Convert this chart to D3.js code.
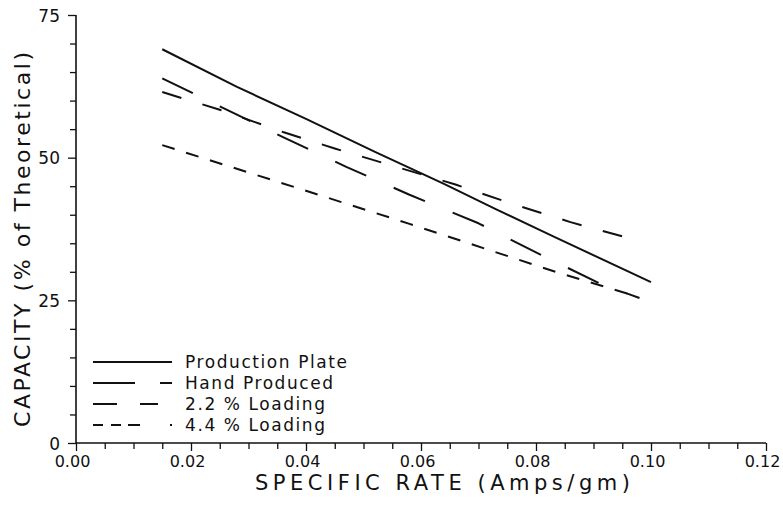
<!DOCTYPE html>
<html>
<head>
<meta charset="utf-8">
<script src="https://cdn.jsdelivr.net/npm/d3@7"></script>
<style>
  html, body { margin: 0; padding: 0; background: #fff; }
  svg { display: block; }
  text { font-family: "DejaVu Sans", "Liberation Sans", sans-serif; fill: #111; }
</style>
</head>
<body>
<svg id="chart" width="783" height="505"></svg>
<script>
// Capacity vs. specific discharge rate for four plate types
const seriesNames = ["Production Plate", "Hand Produced", "2.2 % Loading", "4.4 % Loading"];

const productionRate = [0.015, 0.028, 0.040, 0.052, 0.064, 0.073, 0.083, 0.100];
const productionCap  = [69.0, 62.4, 56.8, 51.0, 45.4, 41.0, 36.2, 28.2];

const handRate = [0.015, 0.025, 0.036, 0.045, 0.066, 0.075, 0.086, 0.098];
const handCap  = [61.5, 58.4, 54.5, 51.6, 45.3, 42.2, 38.7, 35.4];

const load22Rate = [0.015, 0.025, 0.036, 0.047, 0.058, 0.070, 0.080, 0.091, 0.098];
const load22Cap  = [63.9, 59.0, 53.6, 48.4, 43.5, 38.5, 33.4, 28.0, 25.4];

const load44Rate = [0.015, 0.035, 0.058, 0.084, 0.0975];
const load44Cap  = [52.2, 45.8, 38.4, 29.8, 25.7];

const xTicks = [0.00, 0.02, 0.04, 0.06, 0.08, 0.10, 0.12];
const yTicks = [0, 25, 50, 75];

const svg = d3.select("#chart");
const x = d3.scaleLinear().domain([0, 0.12]).range([76, 766]);
const y = d3.scaleLinear().domain([0, 75]).range([443, 15]);

const dashes = [null, "20,22", "34,30", "13,12"];
const rates = [productionRate, handRate, load22Rate, load44Rate];
const caps = [productionCap, handCap, load22Cap, load44Cap];

const isMajorX = d => xTicks.some(t => Math.abs(t - d) < 1e-9);

// Axes
const xAxis = d3.axisBottom(x)
  .tickValues(d3.range(0, 0.1201, 0.005))
  .tickSize(6)
  .tickFormat(d => isMajorX(d) ? d3.format(".2f")(d) : "");
const gx = svg.append("g").attr("transform", `translate(0,${y(0)})`).call(xAxis);
gx.select(".domain").attr("stroke", "#111").attr("stroke-width", 1.6).attr("d", `M${x(0)},0H${x(0.12)}`);
gx.selectAll(".tick line").attr("stroke", "#111").attr("stroke-width", 1.3)
  .attr("y2", d => isMajorX(d) ? 8 : 6);
gx.selectAll(".tick text").attr("font-size", 16).attr("dy", 0).attr("y", 24).attr("dx", -4)
  .attr("fill", "#111");

const yAxis = d3.axisLeft(y)
  .tickValues(d3.range(0, 75.01, 5))
  .tickSize(6)
  .tickFormat(d => yTicks.includes(d) ? String(d) : "");
const gy = svg.append("g").attr("transform", `translate(${x(0)},0)`).call(yAxis);
gy.select(".domain").attr("stroke", "#111").attr("stroke-width", 1.6).attr("d", `M0,${y(0)}V${y(75)}`);
gy.selectAll(".tick line").attr("stroke", "#111").attr("stroke-width", 1.3)
  .attr("x2", d => yTicks.includes(d) ? -8 : -6);
gy.selectAll(".tick text").attr("font-size", 17).attr("x", -16).attr("dy", "0.36em")
  .attr("fill", "#111");

// Axis titles
svg.append("text")
  .attr("x", 255).attr("y", 490)
  .attr("font-size", 21)
  .attr("textLength", 375).attr("lengthAdjust", "spacing")
  .text("SPECIFIC RATE (Amps/gm)");

svg.append("text")
  .attr("transform", "translate(30,427) rotate(-90)")
  .attr("font-size", 22)
  .attr("textLength", 375).attr("lengthAdjust", "spacing")
  .text("CAPACITY (% of Theoretical)");

// Series lines
const line = d3.line().x(d => x(d[0])).y(d => y(d[1]));
seriesNames.forEach((name, i) => {
  const pts = rates[i].map((r, j) => [r, caps[i][j]]);
  svg.append("path")
    .datum(pts)
    .attr("d", line)
    .attr("fill", "none")
    .attr("stroke", "#111")
    .attr("stroke-width", 2)
    .attr("stroke-linejoin", "round")
    .attr("stroke-dasharray", dashes[i]);
});

// Legend
const legendDash = [null, "42,25,12", "24,23,18", "10,8,10,7,12,30,2"];
const legendText = [162, 148, 140, 140];
const legendY = [362, 383, 404, 425];
seriesNames.forEach((name, i) => {
  svg.append("line")
    .attr("x1", 93).attr("x2", 172)
    .attr("y1", legendY[i]).attr("y2", legendY[i])
    .attr("stroke", "#111").attr("stroke-width", 1.8)
    .attr("stroke-dasharray", legendDash[i]);
  svg.append("text")
    .attr("x", 185).attr("y", legendY[i] + 6)
    .attr("font-size", 17)
    .attr("textLength", legendText[i]).attr("lengthAdjust", "spacing")
    .text(name);
});
</script>
</body>
</html>
